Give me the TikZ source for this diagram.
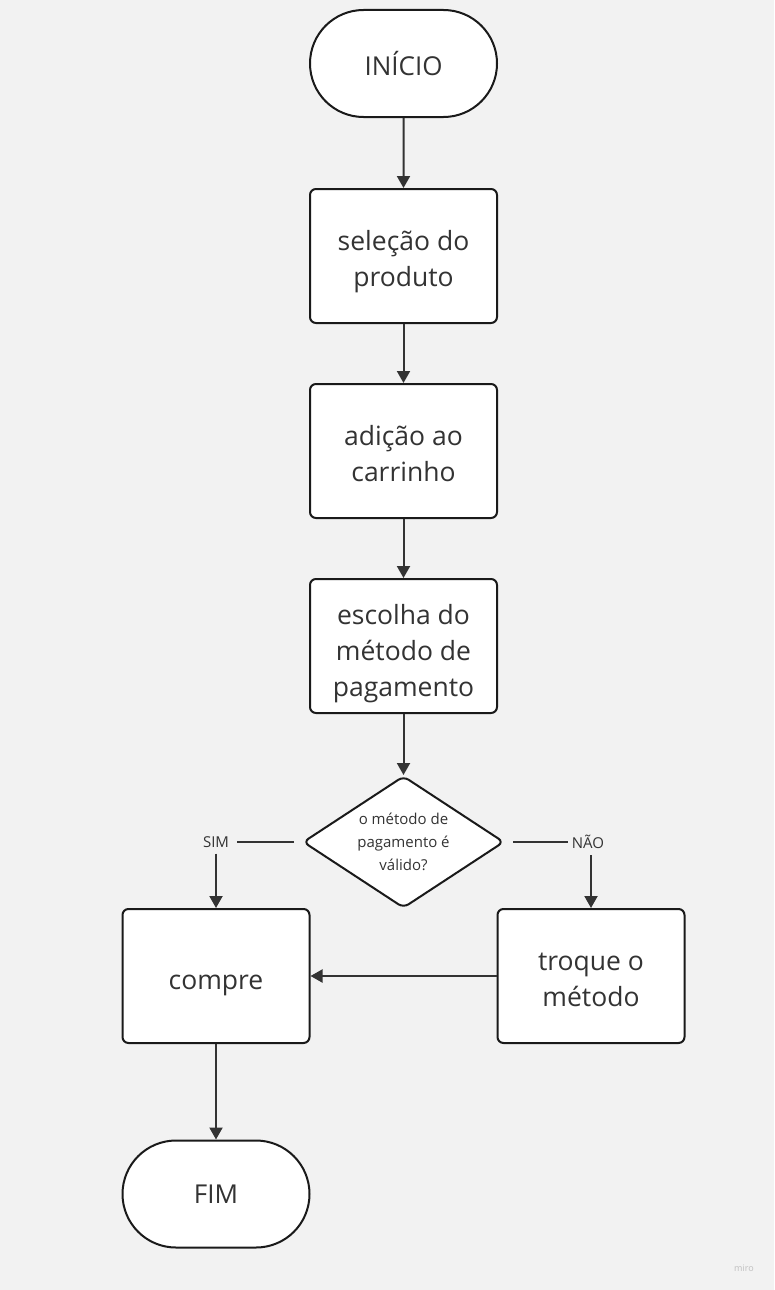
\documentclass[tikz,border=0pt]{standalone}
\usepackage{fontspec}
\setmainfont{Open Sans}
\usetikzlibrary{arrows.meta,shapes.misc,shapes.geometric}
\definecolor{bg}{HTML}{F2F2F2}
\definecolor{ink}{HTML}{333333}
\definecolor{edge}{HTML}{1A1A1A}
\newcommand\boxtext[2][5pt]{\raisebox{-#1}[\height][\depth]{\begin{tabular}{@{}c@{}}#2\end{tabular}}}
\tikzset{
  box/.style={draw=edge, line width=2pt, fill=white, rectangle, rounded corners=6pt,
    minimum width=187pt, minimum height=134pt, align=center, text=ink,
    font=\fontsize{26.5}{36}\selectfont, inner sep=0pt},
  term/.style={draw=edge, line width=2pt, fill=white, rounded rectangle,
    minimum width=187pt, minimum height=107pt, align=center, text=ink,
    font=\fontsize{26}{36}\selectfont, inner sep=0pt},
  decision/.style={draw=edge, line width=2pt, fill=white, diamond, aspect=1.52,
    minimum width=201pt, minimum height=132pt, rounded corners=6pt, align=center,
    text=ink, font=\fontsize{15}{23}\selectfont, inner sep=0pt},
  lbl/.style={text=ink, font=\fontsize{15}{18}\selectfont, inner sep=0pt},
  conn/.style={draw=ink, line width=2pt},
  arr/.style={conn, -{Triangle[length=12pt,width=13pt]}},
}
\begin{document}
\begin{tikzpicture}[x=1pt,y=-1pt]
\fill[bg] (0,0) rectangle (774,1290);
\useasboundingbox (0,0) rectangle (774,1290);
\node[term] (inicio) at (403.5,63.5) {INÍCIO};
\node[box] (selecao) at (403.5,256) {\boxtext{seleção do\\produto}};
\node[box] (adicao) at (403.5,451) {\boxtext{adição ao\\carrinho}};
\node[box] (escolha) at (403.5,646) {\boxtext[7pt]{escolha do\\método de\\pagamento}};
\node[decision] (valido) at (403.5,842) {o método de\\pagamento é\\válido?};
\node[box] (compre) at (216,976) {\boxtext[6pt]{compre}};
\node[box] (troque) at (591,976) {\boxtext{troque o\\método}};
\node[term] (fim) at (216,1194) {FIM};
\node[lbl] (sim) at (216,842) {SIM};
\node[lbl] (nao) at (588,842) {NÃO};
\node[text=black!25, font=\fontsize{9}{10}\selectfont, inner sep=0pt] (miro) at (744,1268) {miro};
\draw[arr] (inicio) -- (selecao);
\draw[arr] (selecao) -- (adicao);
\draw[arr] (adicao) -- (escolha);
\draw[arr] (escolha) -- (valido);
\draw[conn] ([xshift=-8pt]valido.west) -- ([xshift=8pt]sim.east);
\draw[conn] ([xshift=8pt]valido.east) -- ([xshift=-4pt]nao.west);
\draw[arr] ([yshift=-6pt]sim.south) -- (compre.north);
\draw[arr] ([xshift=3pt,yshift=-6pt]nao.south) -- (troque.north);
\draw[arr] (troque.west) -- (compre.east);
\draw[arr] (compre) -- (fim);
\end{tikzpicture}
\end{document}
